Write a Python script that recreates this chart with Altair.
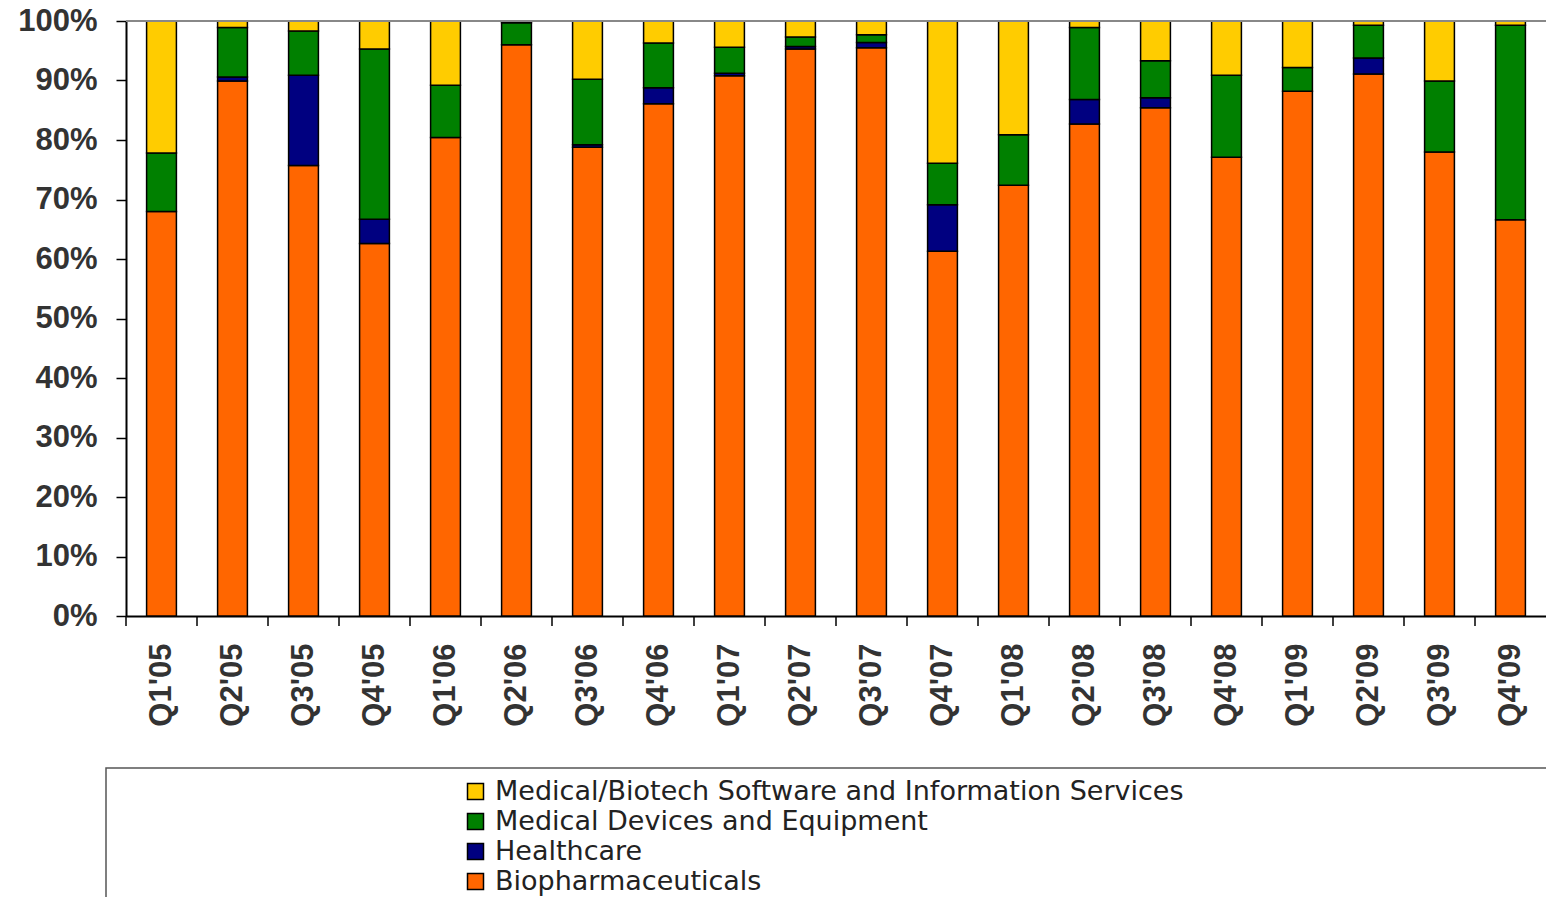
import altair as alt
import pandas as pd

quarters = ["Q1'05", "Q2'05", "Q3'05", "Q4'05", "Q1'06", "Q2'06", "Q3'06", "Q4'06",
            "Q1'07", "Q2'07", "Q3'07", "Q4'07", "Q1'08", "Q2'08", "Q3'08", "Q4'08",
            "Q1'09", "Q2'09", "Q3'09", "Q4'09"]

biopharma = [68.0, 89.9, 75.7, 62.6, 80.4, 96.0, 78.8, 86.1, 90.8, 95.3,
             95.5, 61.3, 72.4, 82.7, 85.4, 77.1, 88.2, 91.1, 78.0, 66.6]
healthcare = [0.0, 0.7, 15.2, 4.1, 0.0, 0.0, 0.4, 2.7, 0.4, 0.4,
              0.9, 7.8, 0.0, 4.1, 1.7, 0.0, 0.0, 2.7, 0.0, 0.0]
devices = [9.8, 8.3, 7.4, 28.6, 8.8, 3.7, 11.0, 7.5, 4.4, 1.6,
           1.3, 7.0, 8.5, 12.1, 6.2, 13.8, 4.0, 5.5, 11.9, 32.7]
software = [22.2, 1.1, 1.7, 4.7, 10.8, 0.3, 9.8, 3.7, 4.4, 2.7,
            2.3, 23.9, 19.1, 1.1, 6.7, 9.1, 7.8, 0.7, 10.1, 0.7]

series_names = ["Biopharmaceuticals", "Healthcare", "Medical Devices and Equipment",
                "Medical/Biotech Software and Information Services"]
series_values = [biopharma, healthcare, devices, software]
legend_order = ["Medical/Biotech Software and Information Services",
                "Medical Devices and Equipment", "Healthcare", "Biopharmaceuticals"]
legend_colors = ["#FFCC00", "#008000", "#000080", "#FF6600"]

rows = []
for si, (name, vals) in enumerate(zip(series_names, series_values)):
    for q, v in zip(quarters, vals):
        if v > 0:
            rows.append({"quarter": q, "sector": name, "share": v, "order": si})
df = pd.DataFrame(rows)
qdf = pd.DataFrame({"quarter": quarters})

FONT = "Liberation Sans"
W, H = 1420, 595
STEP = W / len(quarters)

xscale = alt.Scale(paddingInner=0.58, paddingOuter=0.29)

bars = alt.Chart(df).mark_bar(stroke="black", strokeWidth=1.5).encode(
    x=alt.X("quarter:N", sort=quarters, scale=xscale,
            axis=alt.Axis(title=None, labelAngle=270, labelFont=FONT, labelFontSize=31,
                          labelFontWeight="bold", labelColor="#333333", labelPadding=27,
                          ticks=False, domainColor="black", domainWidth=2)),
    y=alt.Y("share:Q", stack="zero",
            scale=alt.Scale(domain=[0, 100], nice=False),
            axis=alt.Axis(title=None, values=list(range(0, 101, 10)),
                          labelExpr="datum.value + '%'", labelFont=FONT, labelFontSize=31,
                          labelFontWeight="bold", labelColor="#333333", labelPadding=19,
                          tickSize=10, tickColor="black", tickWidth=1.5, grid=False,
                          domainColor="black", domainWidth=2)),
    color=alt.Color("sector:N", scale=alt.Scale(domain=legend_order, range=legend_colors),
                    legend=alt.Legend(title=None, orient="none", legendX=336, legendY=757,
                                      symbolType="square", symbolSize=256,
                                      symbolStrokeColor="black", symbolStrokeWidth=1.5,
                                      symbolOpacity=1,
                                      labelFont="DejaVu Sans", labelFontSize=27,
                                      labelColor="#222222",
                                      rowPadding=2, labelOffset=6, labelLimit=1200)),
    order=alt.Order("order:Q", sort="ascending"),
)

xticks = alt.Chart(qdf).mark_rule(color="black", strokeWidth=1.5, xOffset=-STEP / 2).encode(
    x=alt.X("quarter:N", sort=quarters, scale=xscale),
    y=alt.value(H), y2=alt.value(H + 10))

frame_df = pd.DataFrame({"k": [0]})
top_line = alt.Chart(frame_df).mark_rule(color="#888888", strokeWidth=2).encode(
    x=alt.value(0), x2=alt.value(W + 20), y=alt.value(0))
legend_box = alt.Chart(frame_df).mark_rect(fill=None, stroke="#555555", strokeWidth=1.5).encode(
    x=alt.value(-20), x2=alt.value(W + 40), y=alt.value(747), y2=alt.value(900))

chart = alt.layer(legend_box, bars, xticks, top_line).properties(
    width=W, height=H,
    autosize=alt.AutoSizeParams(type="none"),
    padding={"left": 118, "top": 13, "right": 0, "bottom": 281},
).configure_view(stroke=None).configure(background="white")

chart.save("out.html", embed_options={"renderer": "svg", "actions": False})
